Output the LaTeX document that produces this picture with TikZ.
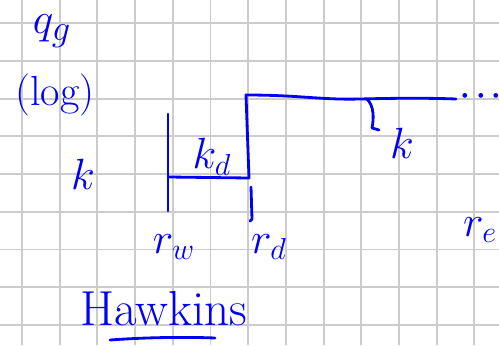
\documentclass[tikz,border=0pt]{standalone}
\usepackage{amsmath}
\usepackage{tikz}
\usetikzlibrary{positioning,arrows.meta,calc}
\definecolor{ink}{RGB}{0,0,245}
\definecolor{gridgray}{RGB}{204,204,204}

\begin{document}
\begin{tikzpicture}[
  x=0.02cm, y=-0.02cm,
  pen/.style={draw=ink, line width=1.6pt, line cap=round, line join=round},
  lbl/.style={text=ink, inner sep=0pt, font=\fontsize{24}{26}\selectfont},
]
  \useasboundingbox (0,0) rectangle (499,345);
  % grid paper
  \foreach \i in {0,...,12} \draw[gridgray, line width=1.1pt] ({22+37.7*\i},0) -- ({22+37.7*\i},345);
  \foreach \j in {0,...,8} \draw[gridgray, line width=1.1pt] (0,{23.3+37.7*\j}) -- (499,{23.3+37.7*\j});

  % axis labels
  \node[lbl, font=\fontsize{28}{30}\selectfont] (qg) at (52,31) {$q_g$};
  \node[lbl] (logl) at (55,95) {(log)};
  \node[lbl] (kaxis) at (83,174) {$k$};

  % permeability profile
  \coordinate (w0) at (168,114);
  \coordinate (w1) at (168,211);
  \coordinate (kdl) at (169,177);
  \coordinate (kdr) at (249,178);
  \coordinate (dtop) at (246,95);
  \coordinate (eend) at (456,99);
  \draw[pen] (w0) -- (w1);
  \draw[pen] (kdl) -- (kdr) -- (dtop)
    .. controls (300,95) and (320,100) .. (360,99)
    .. controls (400,98) and (430,98) .. (eend);
  \node[lbl, font=\fontsize{18}{20}\selectfont\boldmath] (dots) at (484,96) {$\cdots$};
  \draw[pen] (251,187) -- (252,219) -- (250,221);

  \node[lbl] (kd) at (212,157) {$k_d$};
  \node[lbl] (k) at (402,143) {$k$};
  \draw[pen] (367,99) .. controls (374,106) and (374,118) .. (372,128) -- (379,130);

  % radii
  \node[lbl] (rw) at (174,247) {$r_w$};
  \node[lbl] (rd) at (269,247) {$r_d$};
  \node[lbl] (re) at (480,230) {$r_e$};

  \node[lbl, font=\fontsize{28}{30}\selectfont] (hawkins) at (164,309) {Hawkins};
  \draw[pen] (110,340) .. controls (150,337) and (190,337) .. (215,338);
\end{tikzpicture}
\end{document}
